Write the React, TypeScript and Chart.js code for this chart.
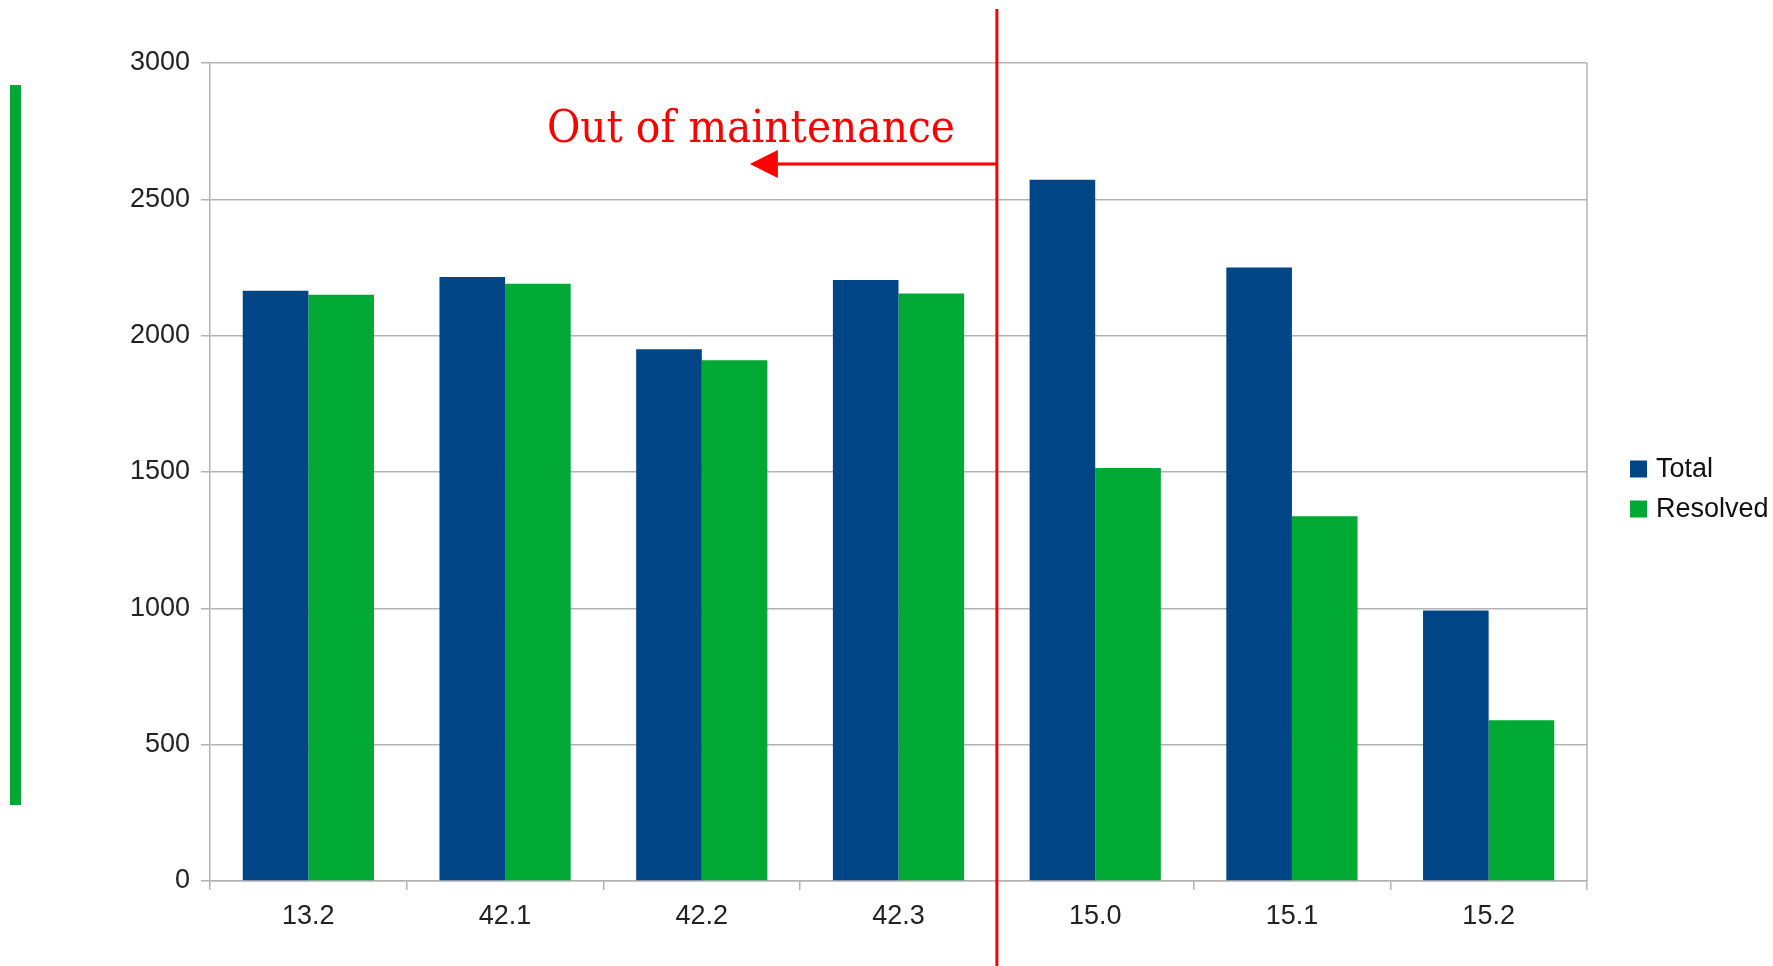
import React, { useEffect, useRef } from "react";
import { Chart, registerables } from "chart.js";

Chart.register(...registerables);

// ---- Data ----
const categories = ["13.2", "42.1", "42.2", "42.3", "15.0", "15.1", "15.2"];
const totalValues = [2165, 2215, 1950, 2204, 2572, 2250, 992];
const resolvedValues = [2150, 2190, 1910, 2155, 1515, 1338, 590];
const seriesLabels = ["Total", "Resolved"];
const seriesColors = ["#004586", "#00a933"];
const yMin = 0;
const yMax = 3000;
const yStep = 500;
const lastOutOfMaintenance = "42.3";
const annotationText = "Out of maintenance";

const W = 1773;
const H = 966;

const overlayPlugin = {
  id: "overlay",
  afterDraw(chart: any) {
    const { ctx, chartArea } = chart;
    const x = chart.scales.x;
    ctx.save();

    // right border of plot wall
    ctx.strokeStyle = "#b3b3b3";
    ctx.lineWidth = 1.5;
    ctx.beginPath();
    ctx.moveTo(chartArea.right, chartArea.top);
    ctx.lineTo(chartArea.right, chartArea.bottom);
    ctx.stroke();

    // decorative green bar on the left
    ctx.fillStyle = "#00a933";
    ctx.fillRect(10, 85, 11, 720);

    // red divider between maintained / unmaintained
    const i = categories.indexOf(lastOutOfMaintenance);
    const bx = (x.getPixelForValue(i) + x.getPixelForValue(i + 1)) / 2;
    ctx.strokeStyle = "#ff0000";
    ctx.fillStyle = "#ff0000";
    ctx.lineWidth = 3;
    ctx.beginPath();
    ctx.moveTo(bx, 9);
    ctx.lineTo(bx, H);
    ctx.stroke();

    // arrow
    const ay = 164;
    const tipX = bx - 247;
    const baseX = tipX + 28;
    ctx.lineWidth = 3.2;
    ctx.beginPath();
    ctx.moveTo(bx, ay);
    ctx.lineTo(baseX, ay);
    ctx.stroke();
    ctx.beginPath();
    ctx.moveTo(tipX, ay);
    ctx.lineTo(baseX, ay - 14);
    ctx.lineTo(baseX, ay + 14);
    ctx.closePath();
    ctx.fill();

    // annotation text
    try {
      (ctx as any).fontStretch = "condensed";
    } catch (e) {}
    ctx.font = "41px 'DejaVu Serif'";
    try {
      (ctx as any).fontStretch = "condensed";
    } catch (e) {}
    const m = ctx.measureText(annotationText).width;
    const fs = Math.min(48, (41 * 408) / m);
    ctx.font = `${fs}px 'DejaVu Serif'`;
    try {
      (ctx as any).fontStretch = "condensed";
    } catch (e) {}
    const w2 = ctx.measureText(annotationText).width;
    ctx.textAlign = "left";
    ctx.textBaseline = "alphabetic";
    ctx.fillText(annotationText, bx - 450 + (408 - w2) / 2, 142);
    try {
      (ctx as any).fontStretch = "normal";
    } catch (e) {}

    // legend
    ctx.font = "27px 'Liberation Sans'";
    ctx.textBaseline = "middle";
    const rows = [469, 509];
    chart.data.datasets.forEach((ds: any, k: number) => {
      ctx.fillStyle = ds.backgroundColor;
      ctx.fillRect(1630, rows[k] - 8.5, 17, 17);
      ctx.fillStyle = "#111111";
      ctx.fillText(ds.label, 1656, rows[k] + 1);
    });

    ctx.restore();
  },
};

export default function App() {
  const ref = useRef<HTMLCanvasElement | null>(null);

  useEffect(() => {
    document.body.style.margin = "0";
    document.body.style.overflow = "hidden";
    const canvas = ref.current;
    if (!canvas) return;
    const chart = new Chart(canvas, {
      type: "bar",
      data: {
        labels: categories,
        datasets: [
          {
            label: seriesLabels[0],
            data: totalValues,
            backgroundColor: seriesColors[0],
            borderWidth: 0,
            categoryPercentage: 0.667,
            barPercentage: 1.0,
          },
          {
            label: seriesLabels[1],
            data: resolvedValues,
            backgroundColor: seriesColors[1],
            borderWidth: 0,
            categoryPercentage: 0.667,
            barPercentage: 1.0,
          },
        ],
      },
      options: {
        responsive: false,
        animation: false,
        devicePixelRatio: 1,
        layout: { padding: { left: 0, right: 186, top: 63, bottom: 0 } },
        plugins: {
          legend: { display: false },
          tooltip: { enabled: false },
        },
        scales: {
          x: {
            grid: {
              display: true,
              drawOnChartArea: false,
              drawTicks: true,
              tickLength: 9,
              color: "#b3b3b3",
              lineWidth: 1.5,
            },
            border: { display: true, color: "#b3b3b3", width: 1.5 },
            ticks: {
              color: "#222222",
              font: { family: "'Liberation Sans'", size: 27 },
              padding: 10,
              maxRotation: 0,
            },
            afterFit: (s: any) => {
              s.height = 85;
            },
          },
          y: {
            min: yMin,
            max: yMax,
            grid: {
              color: "#b3b3b3",
              lineWidth: 1.5,
              tickLength: 9,
              drawTicks: true,
            },
            border: { display: true, color: "#b3b3b3", width: 1.5 },
            ticks: {
              stepSize: yStep,
              color: "#222222",
              font: { family: "'Liberation Sans'", size: 27 },
              padding: 11,
              callback: (v: any) => String(v),
            },
            afterFit: (s: any) => {
              s.width = 210;
            },
          },
        },
      },
      plugins: [overlayPlugin],
    });
    return () => chart.destroy();
  }, []);

  return (
    <div style={{ width: W, height: H, background: "#fff" }}>
      <canvas ref={ref} width={W} height={H} style={{ display: "block" }} />
    </div>
  );
}
